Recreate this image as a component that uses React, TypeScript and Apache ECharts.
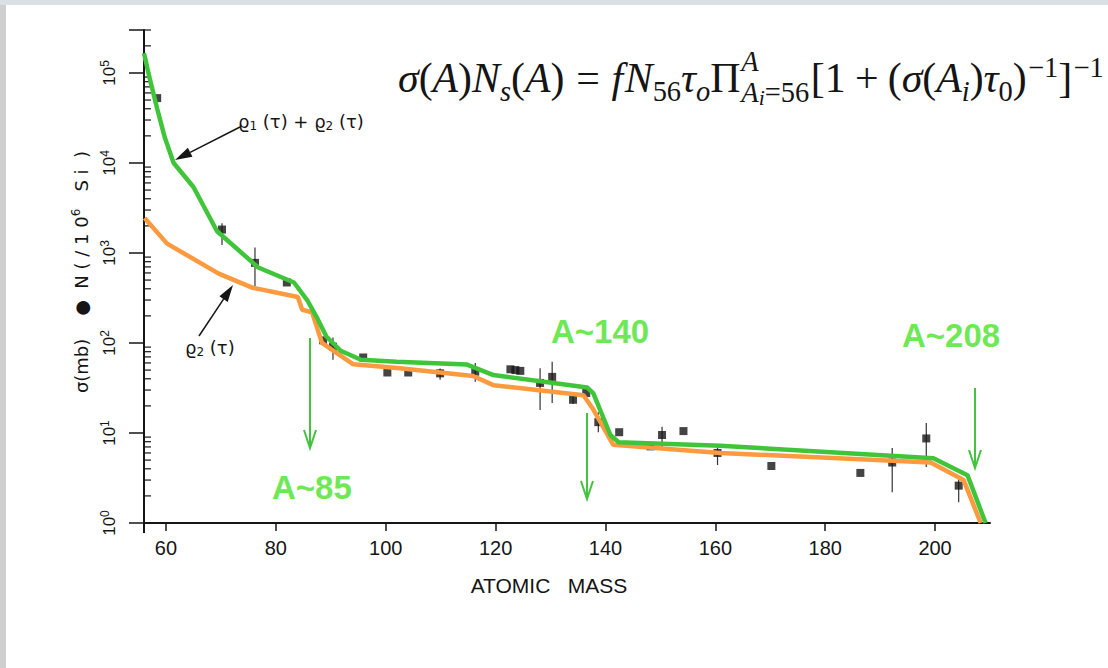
import React, { useEffect, useRef } from "react";
import * as echarts from "echarts";

const X_MIN = 56;
const X_MAX = 210;
const Y_MIN = 1;
const Y_MAX = 300000;
const xTickValues = [60, 80, 100, 120, 140, 160, 180, 200];
const xTickMarks = [56, 60, 80, 100, 120, 140, 160, 180, 200];
const decades = [1, 10, 100, 1000, 10000, 100000];
const minorMultipliers = [2, 3, 4, 5, 6, 7, 8, 9];

// rho1(tau) + rho2(tau) model curve [A, sigma*N]
const sumCurve: [number, number][] = [
  [56, 166000], [57, 89000], [58.4, 40000], [59.8, 19000], [61.4, 10000], [65, 5400],
  [69.3, 1740], [76.8, 690], [83.3, 470], [85.7, 300], [87.6, 185], [89.2, 118],
  [91.8, 82], [95.5, 65], [102, 62], [114.8, 57.5], [119.6, 44], [136.7, 32],
  [137.8, 27.5], [140.9, 9.5], [142.4, 7.9], [160.9, 7.2], [199.7, 5.25], [205.9, 3.4],
  [209.2, 1],
];

// rho2(tau) model curve [A, sigma*N]
const rho2Curve: [number, number][] = [
  [56.1, 2450], [60.2, 1270], [69.6, 590], [75.8, 410], [84, 324], [84.8, 234],
  [86.6, 219], [88.4, 100], [94.1, 58], [102.6, 52.5], [115.9, 43], [119.6, 34],
  [136, 26.3], [137.8, 18.2], [141.4, 7.4], [160.9, 6.0], [199.2, 4.7], [205.2, 3.0],
  [208.3, 1],
];

// measured sigma*N points [A, value]
const measured: [number, number][] = [
  [58.4, 52500], [70.2, 1820], [76.2, 776], [82, 470], [88.6, 107], [90.4, 91],
  [95.9, 69], [100.3, 47], [104.1, 47], [109.9, 46], [116.3, 48], [122.7, 51],
  [123.6, 50], [124.5, 49], [128.1, 36], [130.3, 42], [134.1, 23.4], [136.5, 27.8],
  [138.7, 13.2], [142.5, 10.2], [148.2, 7.1], [150.3, 9.5], [154.2, 10.5], [160.4, 6.0],
  [170.2, 4.3], [186.4, 3.6], [192.2, 4.7], [198.4, 8.7], [204.3, 2.6],
];

// error bars [A, low, high]
const errorBars: [number, number, number][] = [
  [70.2, 1230, 2140], [76.2, 389, 1150], [90.4, 65, 115], [109.9, 39, 52],
  [116.3, 37, 60], [128.1, 18, 52.5], [130.3, 21.5, 62], [134.1, 21, 26],
  [138.7, 10.2, 17], [148.2, 6.5, 7.8], [150.3, 7, 11.7], [160.4, 4.4, 7.0],
  [192.2, 2.2, 6.8], [198.4, 4.2, 12.9], [204.3, 1.7, 3.2],
];

const minorTicks: number[] = decades
  .flatMap((d) => minorMultipliers.map((m) => m * d))
  .filter((v) => v <= Y_MAX);

const GREEN = "#3fc43a";
const ORANGE = "#fb9a3e";
const ANNOT_GREEN = "#45c23f";
const LABEL_GREEN = "#6fe857";
const INK = "#151515";

const serif = "Liberation Serif";
const sans = "Liberation Sans";

// formula tokens: role m=main, sub, sup; stack group handled separately
type Tok = { t: string; it?: boolean; role: "m" | "sub" | "sup" | "ss"; gap?: number };
const formulaLeft: Tok[] = [
  { t: "σ", it: true, role: "m" }, { t: "(", role: "m" }, { t: "A", it: true, role: "m" },
  { t: ")", role: "m" }, { t: "N", it: true, role: "m" }, { t: "s", it: true, role: "sub" },
  { t: "(", role: "m" }, { t: "A", it: true, role: "m" }, { t: ")", role: "m" },
  { t: "=", role: "m", gap: 0.28 }, { t: "f", it: true, role: "m", gap: 0.28 },
  { t: "N", it: true, role: "m", gap: 0.04 }, { t: "56", role: "sub" },
  { t: "τ", it: true, role: "m" }, { t: "o", it: true, role: "sub" }, { t: "Π", role: "m" },
];
const stackUpper: Tok[] = [{ t: "A", it: true, role: "sub" }];
const stackLower: Tok[] = [
  { t: "A", it: true, role: "sub" }, { t: "i", it: true, role: "ss" }, { t: "=56", role: "sub" },
];
const formulaRight: Tok[] = [
  { t: "[", role: "m", gap: 0.04 }, { t: "1", role: "m" }, { t: "+", role: "m", gap: 0.22 },
  { t: "(", role: "m", gap: 0.22 }, { t: "σ", it: true, role: "m" }, { t: "(", role: "m" },
  { t: "A", it: true, role: "m" }, { t: "i", it: true, role: "sub" }, { t: ")", role: "m" },
  { t: "τ", it: true, role: "m" }, { t: "0", role: "sub" }, { t: ")", role: "m" },
  { t: "−1", role: "sup", gap: 0.03 }, { t: "]", role: "m" }, { t: "−1", role: "sup", gap: 0.03 },
];

function greenArrow(x: number, y1: number, y2: number) {
  return [
    { type: "line", shape: { x1: x, y1, x2: x, y2 }, style: { stroke: ANNOT_GREEN, lineWidth: 2 } },
    {
      type: "polyline",
      shape: { points: [[x - 6, y2 - 18], [x, y2], [x + 6, y2 - 18]] },
      style: { stroke: ANNOT_GREEN, lineWidth: 2, fill: "none" },
    },
  ];
}

function blackArrow(x1: number, y1: number, tx: number, ty: number) {
  const dx = tx - x1;
  const dy = ty - y1;
  const len = Math.sqrt(dx * dx + dy * dy);
  const ux = dx / len;
  const uy = dy / len;
  const bx = tx - 17 * ux;
  const by = ty - 17 * uy;
  const px = -uy * 5;
  const py = ux * 5;
  return [
    { type: "line", shape: { x1, y1, x2: bx, y2: by }, style: { stroke: INK, lineWidth: 1.5 } },
    {
      type: "polygon",
      shape: { points: [[tx, ty], [bx + px, by + py], [bx - px, by - py]] },
      style: { fill: INK },
    },
  ];
}

function buildFormula(left: number, right: number, baseline: number): any[] {
  const canvas = document.createElement("canvas");
  const ctx = canvas.getContext("2d")!;
  const sizeOf = (role: string, M: number) =>
    role === "m" ? M : role === "ss" ? 0.52 * M : 0.68 * M;
  const shiftOf = (role: string, M: number, stack?: "up" | "down") => {
    if (stack === "up") return -0.5 * M;
    if (stack === "down") return role === "ss" ? 0.33 * M : 0.24 * M;
    if (role === "sub") return 0.22 * M;
    if (role === "sup") return -0.36 * M;
    return 0;
  };
  const measure = (tk: Tok, M: number) => {
    ctx.font = `${tk.it ? "italic " : ""}${sizeOf(tk.role, M)}px "${serif}"`;
    return ctx.measureText(tk.t).width;
  };
  const layout = (M: number) => {
    const items: { tk: Tok; x: number; stack?: "up" | "down" }[] = [];
    let x = 0;
    const run = (toks: Tok[], stack?: "up" | "down") => {
      for (const tk of toks) {
        x += (tk.gap || 0) * M;
        items.push({ tk, x, stack });
        x += measure(tk, M);
      }
    };
    run(formulaLeft);
    const x0 = x + 0.02 * M;
    x = x0;
    run(stackUpper, "up");
    const wUp = x - x0;
    x = x0;
    run(stackLower, "down");
    const wDown = x - x0;
    x = x0 + Math.max(wUp, wDown);
    run(formulaRight);
    return { items, width: x };
  };
  const probe = layout(100);
  const M = (100 * (right - left)) / probe.width;
  const { items } = layout(M);
  return items.map(({ tk, x, stack }) => {
    const fs = sizeOf(tk.role, M);
    const yb = baseline + shiftOf(tk.role, M, stack);
    return {
      type: "text",
      x: left + x,
      y: yb - 0.34 * fs,
      style: {
        text: tk.t,
        fontFamily: serif,
        fontSize: fs,
        fontStyle: tk.it ? "italic" : "normal",
        fill: INK,
        textAlign: "left",
        textVerticalAlign: "middle",
      },
    };
  });
}

export default function App() {
  const ref = useRef<HTMLDivElement>(null);

  useEffect(() => {
    if (!ref.current) return;
    const chart = echarts.init(ref.current, undefined, { renderer: "svg" });

    const graphic: any[] = [
      { type: "rect", shape: { x: 0, y: 0, width: 6, height: 668 }, style: { fill: "#cfcfcf" }, silent: true },
      { type: "rect", shape: { x: 0, y: 0, width: 1108, height: 5 }, style: { fill: "#dae1e4" }, silent: true },
      { type: "line", shape: { x1: 144, y1: 523, x2: 144, y2: 533 }, style: { stroke: INK, lineWidth: 2 } },
      ...buildFormula(398, 1104, 92),
      {
        type: "text",
        x: 81,
        y: 272,
        rotation: Math.PI / 2,
        style: {
          text: "{a|σ(mb)}{a|    ●  N ( / 1 0}{s|6}{a|   S i  )}",
          rich: {
            a: { fontFamily: "DejaVu Sans", fontSize: 18, lineHeight: 22, fill: INK },
            s: { fontFamily: "DejaVu Sans", fontSize: 12, lineHeight: 12, fill: INK, verticalAlign: "top" },
          },
          textAlign: "center",
          textVerticalAlign: "middle",
        },
      },
      {
        type: "text",
        x: 549,
        y: 585,
        style: {
          text: "ATOMIC   MASS",
          fontFamily: sans,
          fontSize: 21,
          fill: INK,
          textAlign: "center",
          textVerticalAlign: "middle",
        },
      },
      {
        type: "text",
        x: 238,
        y: 121,
        style: {
          text: "{a|ϱ}{s|1}{a| (τ) + ϱ}{s|2}{a| (τ)}",
          rich: {
            a: { fontFamily: "DejaVu Sans", fontSize: 18, lineHeight: 22, fill: INK },
            s: { fontFamily: "DejaVu Sans", fontSize: 12, lineHeight: 12, fill: INK, verticalAlign: "bottom" },
          },
          textAlign: "left",
          textVerticalAlign: "middle",
        },
      },
      {
        type: "text",
        x: 185,
        y: 347,
        style: {
          text: "{a|ϱ}{s|2}{a| (τ)}",
          rich: {
            a: { fontFamily: "DejaVu Sans", fontSize: 18, lineHeight: 22, fill: INK },
            s: { fontFamily: "DejaVu Sans", fontSize: 12, lineHeight: 12, fill: INK, verticalAlign: "bottom" },
          },
          textAlign: "left",
          textVerticalAlign: "middle",
        },
      },
      ...blackArrow(240, 127, 175, 160),
      ...blackArrow(199, 336, 233, 285),
      ...greenArrow(310, 338, 448),
      ...greenArrow(587, 413, 499),
      ...greenArrow(975, 388, 468),
      {
        type: "text",
        x: 272,
        y: 487,
        style: { text: "A~85", fontFamily: sans, fontSize: 33, fontWeight: "bold", fill: LABEL_GREEN, textAlign: "left", textVerticalAlign: "middle" },
      },
      {
        type: "text",
        x: 551,
        y: 331,
        style: { text: "A~140", fontFamily: sans, fontSize: 33, fontWeight: "bold", fill: LABEL_GREEN, textAlign: "left", textVerticalAlign: "middle" },
      },
      {
        type: "text",
        x: 902,
        y: 335,
        style: { text: "A~208", fontFamily: sans, fontSize: 33, fontWeight: "bold", fill: LABEL_GREEN, textAlign: "left", textVerticalAlign: "middle" },
      },
    ];

    chart.setOption({
      animation: false,
      backgroundColor: "#ffffff",
      grid: { left: 144, right: 118, top: 30, bottom: 145 },
      xAxis: {
        type: "value",
        min: X_MIN,
        max: X_MAX,
        splitLine: { show: false },
        axisLine: { show: true, onZero: false, lineStyle: { color: INK, width: 2 } },
        axisTick: { show: true, customValues: xTickMarks, length: 8, lineStyle: { color: INK, width: 1.5 } },
        axisLabel: {
          customValues: xTickValues,
          fontFamily: sans,
          fontSize: 20,
          color: INK,
          margin: 15,
        },
      },
      yAxis: {
        type: "log",
        logBase: 10,
        min: Y_MIN,
        max: Y_MAX,
        splitLine: { show: false },
        axisLine: { show: true, lineStyle: { color: INK, width: 2 } },
        axisTick: { show: true, length: 15, lineStyle: { color: INK, width: 1.5 } },
        axisLabel: {
          rotate: 90,
          margin: 25,
          color: INK,
          formatter: (v: number) => {
            const e = Math.log10(v);
            if (Math.abs(e - Math.round(e)) > 1e-6) return "";
            return `{b|10}{s|${Math.round(e)}}`;
          },
          rich: {
            b: { fontFamily: sans, fontSize: 17, lineHeight: 20, color: INK },
            s: { fontFamily: sans, fontSize: 12, lineHeight: 11, color: INK, verticalAlign: "top" },
          },
        },
      },
      series: [
        {
          type: "custom",
          name: "minorTicks",
          silent: true,
          clip: false,
          data: minorTicks.map((v) => [X_MIN, v]),
          encode: { x: 0, y: 1 },
          renderItem: (_p: any, api: any) => {
            const p = api.coord([api.value(0), api.value(1)]);
            return {
              type: "line",
              shape: { x1: p[0], y1: p[1], x2: p[0] + 7, y2: p[1] },
              style: { stroke: INK, lineWidth: 1.2 },
            };
          },
        },
        {
          type: "custom",
          name: "errors",
          silent: true,
          data: errorBars,
          encode: { x: 0, y: [1, 2] },
          renderItem: (_p: any, api: any) => {
            const a = api.coord([api.value(0), api.value(1)]);
            const b = api.coord([api.value(0), api.value(2)]);
            return {
              type: "line",
              shape: { x1: a[0], y1: a[1], x2: b[0], y2: b[1] },
              style: { stroke: "#333", lineWidth: 1.2 },
            };
          },
        },
        {
          type: "scatter",
          name: "measured",
          data: measured,
          symbol: "rect",
          symbolSize: 8,
          itemStyle: { color: INK },
        },
        {
          type: "line",
          name: "rho2",
          data: rho2Curve,
          showSymbol: false,
          symbol: "none",
          lineStyle: { color: ORANGE, width: 4.5 },
        },
        {
          type: "line",
          name: "rho1+rho2",
          data: sumCurve,
          showSymbol: false,
          symbol: "none",
          lineStyle: { color: GREEN, width: 4.5 },
        },
      ],
      graphic,
    });

    return () => chart.dispose();
  }, []);

  return (
    <div style={{ position: "fixed", left: 0, top: 0, width: 1108, height: 668, background: "#fff" }}>
      <div ref={ref} style={{ width: 1108, height: 668 }} />
    </div>
  );
}
